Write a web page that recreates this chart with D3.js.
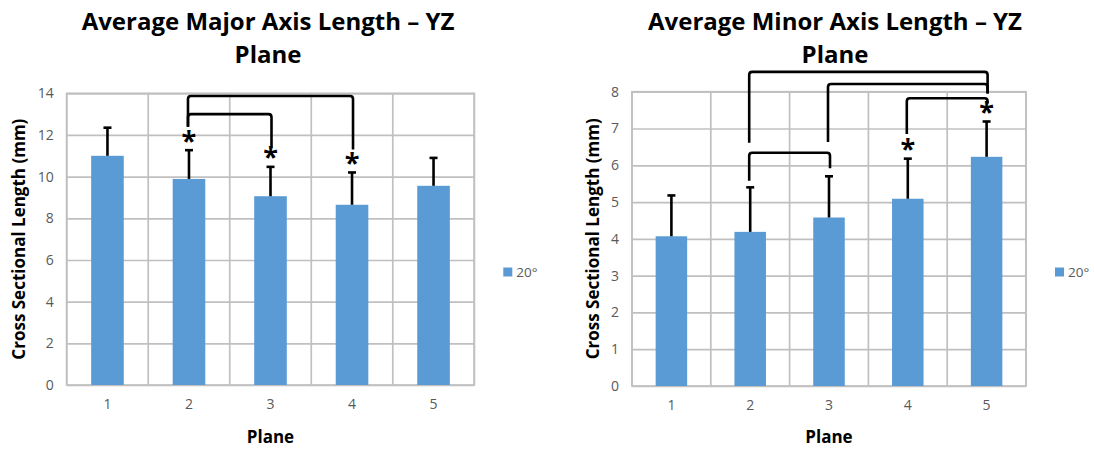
<!DOCTYPE html>
<html>
<head>
<meta charset="utf-8">
<script src="https://cdn.jsdelivr.net/npm/d3@7"></script>
<style>
  html, body { margin: 0; padding: 0; background: #fff; }
  svg { display: block; }
</style>
</head>
<body>
<svg id="fig" width="1094" height="451"></svg>
<script>
// Categories shared by both panels
const planes = ["1", "2", "3", "4", "5"];

// Average major axis length (mm) and its standard deviation
const majorMeans = [11.0, 9.89, 9.06, 8.65, 9.56];
const majorErrors = [1.35, 1.38, 1.41, 1.55, 1.34];
const majorTicks = [0, 2, 4, 6, 8, 10, 12, 14];

// Average minor axis length (mm) and its standard deviation
const minorMeans = [4.07, 4.19, 4.58, 5.09, 6.23];
const minorErrors = [1.11, 1.21, 1.12, 1.09, 0.96];
const minorTicks = [0, 1, 2, 3, 4, 5, 6, 7, 8];

// Significance markers: planes flagged with "*"
const majorStars = ["2", "3", "4"];
const minorStars = ["4", "5"];

// Comparison brackets (values in mm): from plane a to plane b
const majorBrackets = [
  { a: "2", b: "4", top: 13.87, aEnd: 12.4, bEnd: 11.3 },
  { a: "2", b: "3", top: 13.0, aEnd: 12.4, bEnd: 11.36 }
];
const minorBrackets = [
  { a: "2", b: "5", top: 8.54, aEnd: 6.61, bEnd: 7.95 },
  { a: "3", b: "5", top: 8.21, aEnd: 6.63, bEnd: 7.95 },
  { a: "4", b: "5", top: 7.82, aEnd: 6.85, bEnd: 7.68 },
  { a: "2", b: "3", top: 6.34, aEnd: 5.58, bEnd: 5.92 }
];

const seriesName = "20°";
const BAR = "#5b9bd5";
const GRID = "#c0c0c0";
const TEXT = "#595959";
const FONT = "'Open Sans', sans-serif";

const svg = d3.select("#fig");
svg.append("rect").attr("width", 1094).attr("height", 451).attr("fill", "#fff");

function panel(cfg) {
  const g = svg.append("g");
  const { left, right, top, bottom } = cfg.box;

  const x = d3.scaleBand().domain(planes).range([left, right])
    .paddingInner(0.6).paddingOuter(0.3);
  const y = d3.scaleLinear().domain([0, d3.max(cfg.ticks)]).range([bottom, top]);
  const step = x.step();
  const cx = p => x(p) + x.bandwidth() / 2;

  // horizontal gridlines + y tick labels
  const yAxis = g.append("g").attr("transform", `translate(${left},0)`)
    .call(d3.axisLeft(y).tickValues(cfg.ticks).tickSize(-(right - left)).tickPadding(13));
  yAxis.select(".domain").remove();
  yAxis.selectAll(".tick line").attr("stroke", GRID).attr("stroke-width", 1.7);
  yAxis.selectAll(".tick text").attr("fill", TEXT).attr("font-size", 14)
    .attr("font-family", FONT);

  // vertical gridlines at category boundaries
  g.append("g").selectAll("line")
    .data(d3.range(planes.length + 1))
    .join("line")
    .attr("x1", i => left + i * step).attr("x2", i => left + i * step)
    .attr("y1", top).attr("y2", bottom)
    .attr("stroke", GRID).attr("stroke-width", 1.7);

  // frame
  g.append("rect").attr("x", left).attr("y", top)
    .attr("width", right - left).attr("height", bottom - top)
    .attr("fill", "none").attr("stroke", GRID).attr("stroke-width", 1.7);

  // x tick labels
  const xAxis = g.append("g").attr("transform", `translate(0,${bottom})`)
    .call(d3.axisBottom(x).tickSize(0).tickPadding(14));
  xAxis.select(".domain").remove();
  xAxis.selectAll(".tick text").attr("fill", TEXT).attr("font-size", 14)
    .attr("font-family", FONT);

  // bars
  g.append("g").selectAll("rect")
    .data(planes)
    .join("rect")
    .attr("x", p => x(p))
    .attr("width", x.bandwidth())
    .attr("y", (p, i) => y(cfg.means[i]))
    .attr("height", (p, i) => y(0) - y(cfg.means[i]))
    .attr("fill", BAR);

  // error bars (upper half)
  const eb = g.append("g").attr("stroke", "#000").attr("stroke-width", 2.6);
  eb.selectAll("line.v").data(planes).join("line").attr("class", "v")
    .attr("x1", cx).attr("x2", cx)
    .attr("y1", (p, i) => y(cfg.means[i]))
    .attr("y2", (p, i) => y(cfg.means[i] + cfg.errors[i]));
  eb.selectAll("line.c").data(planes).join("line").attr("class", "c")
    .attr("x1", p => cx(p) - 4).attr("x2", p => cx(p) + 4)
    .attr("y1", (p, i) => y(cfg.means[i] + cfg.errors[i]))
    .attr("y2", (p, i) => y(cfg.means[i] + cfg.errors[i]));

  // asterisks above flagged error bars
  const starSize = 27;
  g.append("g").selectAll("text")
    .data(cfg.stars)
    .join("text")
    .attr("x", cx)
    .attr("y", p => {
      const i = planes.indexOf(p);
      return y(cfg.means[i] + cfg.errors[i]) - 8 + 0.28 * starSize;
    })
    .attr("text-anchor", "middle")
    .attr("font-family", FONT).attr("font-weight", 700).attr("font-size", starSize)
    .attr("fill", "#000")
    .text("*");

  // comparison brackets with rounded corners
  const r = 3;
  g.append("g").selectAll("path")
    .data(cfg.brackets)
    .join("path")
    .attr("d", b => {
      const xa = cx(b.a) - 1, xb = cx(b.b) + 1;
      const yt = y(b.top);
      return `M${xa},${y(b.aEnd)} V${yt + r} Q${xa},${yt} ${xa + r},${yt}` +
             ` H${xb - r} Q${xb},${yt} ${xb},${yt + r} V${y(b.bEnd)}`;
    })
    .attr("fill", "none").attr("stroke", "#000").attr("stroke-width", 2.6);

  // titles
  const t = g.append("text").attr("text-anchor", "middle")
    .attr("font-family", FONT).attr("font-weight", 700).attr("font-size", 24)
    .attr("fill", "#000");
  t.append("tspan").attr("x", cfg.titleX).attr("y", 30).text(cfg.title[0]);
  t.append("tspan").attr("x", cfg.titleX).attr("y", 63).text(cfg.title[1]);

  g.append("text")
    .attr("transform", `translate(${cfg.yTitleX},${(top + bottom) / 2}) rotate(-90)`)
    .attr("text-anchor", "middle").attr("dominant-baseline", "central")
    .attr("font-family", FONT).attr("font-weight", 700).attr("font-size", 17)
    .attr("fill", "#000").text("Cross Sectional Length (mm)");

  g.append("text")
    .attr("x", (left + right) / 2).attr("y", 443)
    .attr("text-anchor", "middle")
    .attr("font-family", FONT).attr("font-weight", 700).attr("font-size", 17)
    .attr("fill", "#000").text("Plane");

  // legend
  const lg = g.append("g").attr("transform", `translate(${right + 29},${cfg.legendY})`);
  lg.append("rect").attr("x", 0).attr("y", -4.5).attr("width", 9).attr("height", 9).attr("fill", BAR);
  lg.append("text").attr("x", 13).attr("y", 0).attr("dominant-baseline", "central")
    .attr("font-family", FONT).attr("font-size", 13.5).attr("fill", TEXT).text(seriesName);
}

panel({
  box: { left: 66.7, right: 474.3, top: 93.3, bottom: 385 },
  ticks: majorTicks, means: majorMeans, errors: majorErrors,
  stars: majorStars, brackets: majorBrackets,
  title: ["Average Major Axis Length \u2013 YZ", "Plane"], titleX: 268,
  yTitleX: 18, legendY: 272
});

panel({
  box: { left: 632, right: 1026, top: 91.7, bottom: 386 },
  ticks: minorTicks, means: minorMeans, errors: minorErrors,
  stars: minorStars, brackets: minorBrackets,
  title: ["Average Minor Axis Length \u2013 YZ", "Plane"], titleX: 835,
  yTitleX: 592, legendY: 272
});
</script>
</body>
</html>
